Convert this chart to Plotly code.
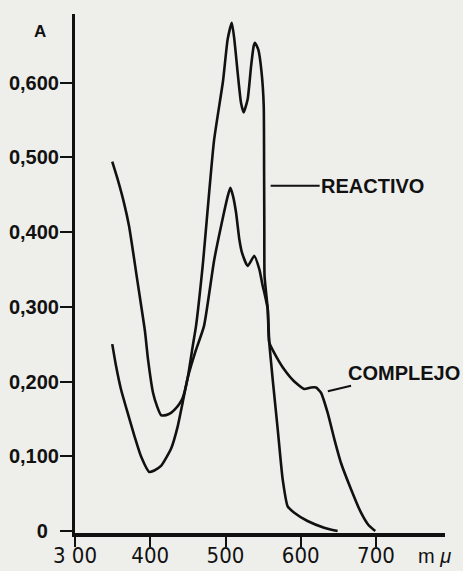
import plotly.graph_objects as go

# Wavelength (m\u03bc) and absorbance readings
reactivo_nm = [349.5, 357.1, 365.1, 371.8, 377.1, 382.4, 387.7, 393.0, 397.0, 403.7, 409.0, 414.3, 421, 427.6, 433, 438.6,
               443.1, 449.8, 456.4, 460.8, 469.7, 484.7, 496.7, 502.9, 508.4, 511.7, 516.2, 520.6, 524.2, 529.5, 534,
               537.5, 539.2, 543.6, 548, 550.8, 551.3, 551.6, 551.9, 556.1, 558.2, 562.7, 569.4, 576, 582.6, 591.4, 609,
               631, 649]
reactivo_a = [0.494, 0.469, 0.439, 0.408, 0.374, 0.338, 0.303, 0.267, 0.230, 0.185, 0.167, 0.155, 0.155, 0.158, 0.163, 0.170,
              0.178, 0.205, 0.247, 0.274, 0.355, 0.522, 0.602, 0.658, 0.680, 0.658, 0.613, 0.573, 0.560, 0.578, 0.622,
              0.649, 0.653, 0.644, 0.613, 0.569, 0.480, 0.400, 0.341, 0.297, 0.252, 0.203, 0.136, 0.069, 0.033, 0.0245, 0.0134,
              0.0045, 0.0]

complejo_nm = [349.5, 354.5, 361, 370, 379, 387.7, 398.7, 405.4, 414.3, 427.6, 436.5, 443.1, 449.8, 460, 471.4, 484.7, 495,
               503, 506.4, 510, 514, 518.4, 522, 529.5, 538.3, 545, 549.4, 551.6, 556.1, 558.2, 567.1, 578.1, 591.4,
               604.7, 613.6, 620.3, 626.9, 635.8, 644.6, 653.5, 666.8, 680.1, 690, 699]
complejo_a = [0.250, 0.221, 0.190, 0.158, 0.127, 0.100, 0.079, 0.081, 0.087, 0.110, 0.140, 0.172, 0.205, 0.240, 0.274, 0.361, 0.412,
              0.448, 0.459, 0.448, 0.426, 0.390, 0.372, 0.3545, 0.368, 0.350, 0.328, 0.319, 0.297, 0.252, 0.234, 0.216, 0.200,
              0.190, 0.192, 0.192, 0.185, 0.158, 0.123, 0.091, 0.056, 0.0245, 0.008, 0.0]

x_ticks = [300, 400, 500, 600, 700]
x_tick_labels = ["3 00", "400", "500", "600", "700"]
y_ticks = [0, 0.1, 0.2, 0.3, 0.4, 0.5, 0.6]
y_tick_labels = ["0\u00a0\u00a0", "0,100", "0,200", "0,300", "0,400", "0,500", "0,600"]

BG = "#eeeeeb"
W, H = 463, 571
L, R, T, B = 75, 18, 14, 38
PX_PER_NM = 0.7525
PX_PER_A = 747.5
FONT = "Liberation Sans, Arial, sans-serif"
NARROW = "Liberation Sans Narrow, DejaVu Sans Condensed, sans-serif"
INK = "#111111"

fig = go.Figure()
line_style = dict(color=INK, width=2.6, shape="spline", smoothing=0.5)
fig.add_trace(go.Scatter(x=reactivo_nm, y=reactivo_a, mode="lines", line=line_style, name="REACTIVO"))
fig.add_trace(go.Scatter(x=complejo_nm, y=complejo_a, mode="lines", line=line_style, name="COMPLEJO"))

plot_w = W - L - R
plot_h = H - T - B
y0 = -2 / PX_PER_A
fig.update_layout(
    width=W, height=H,
    margin=dict(l=L, r=R, t=T, b=B, autoexpand=False),
    paper_bgcolor=BG, plot_bgcolor=BG,
    showlegend=False,
    font=dict(family=FONT, size=18, color=INK),
    xaxis=dict(range=[300, 300 + plot_w / PX_PER_NM], tickvals=x_ticks, ticktext=x_tick_labels,
               showline=True, linecolor=INK, linewidth=4,
               ticks="outside", ticklen=10, tickwidth=1.5, tickcolor=INK, ticklabelstandoff=-10,
               showgrid=False, zeroline=False, fixedrange=True, automargin=False,
               tickfont=dict(family=NARROW, size=22, color=INK)),
    yaxis=dict(range=[y0, y0 + plot_h / PX_PER_A], tickvals=y_ticks, ticktext=y_tick_labels,
               showline=True, linecolor=INK, linewidth=3,
               ticks="outside", ticklen=12, tickwidth=1.5, tickcolor=INK, ticklabelstandoff=-3,
               showgrid=False, zeroline=False, fixedrange=True, automargin=False,
               tickfont=dict(family=FONT, size=20, color=INK, weight="bold")),
)

fig.add_annotation(x=560, y=0.462, xref="x", yref="y", text="<b>REACTIVO</b>",
                   showarrow=True, arrowhead=0, arrowwidth=2, arrowcolor=INK,
                   ax=102, ay=0, standoff=0, font=dict(family=FONT, size=20))
fig.add_annotation(x=636, y=0.187, xref="x", yref="y", text="<b>COMPLEJO</b>",
                   showarrow=True, arrowhead=0, arrowwidth=2, arrowcolor=INK,
                   ax=76, ay=-18, standoff=0, font=dict(family=FONT, size=20))


def px_to_paper(px, py):
    return (px - L) / plot_w, 1 - (py - T) / plot_h


ax_, ay_ = px_to_paper(40, 32)
fig.add_annotation(x=ax_, y=ay_, xref="paper", yref="paper", xanchor="center", yanchor="middle",
                   text="<b>A</b>", showarrow=False, font=dict(family=FONT, size=17))
mx, my = px_to_paper(434, 556)
fig.add_annotation(x=mx, y=my, xref="paper", yref="paper", xanchor="center", yanchor="middle",
                   text="m <i>\u03bc</i>", showarrow=False, font=dict(family=FONT, size=20))

fig.write_html(
    "out.html",
    config={"displayModeBar": False},
    post_script="document.body.style.margin='0';document.body.style.background='" + BG + "';",
)
